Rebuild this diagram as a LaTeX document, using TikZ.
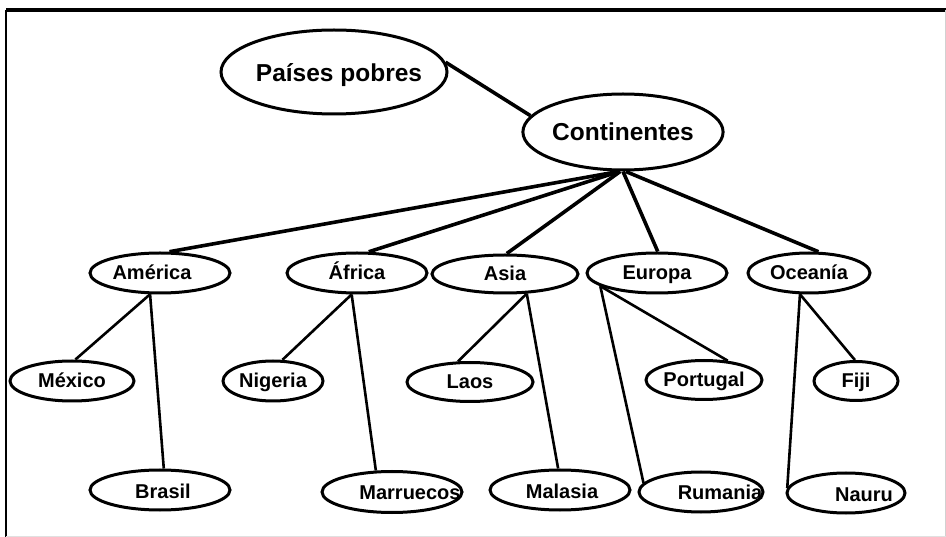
\documentclass[tikz,border=0pt]{standalone}
\usepackage{fontspec}
\setmainfont{Liberation Sans}
\usetikzlibrary{shapes.geometric}
\begin{document}
\begin{tikzpicture}[x=1pt,y=-1pt,
  oval/.style={draw=black, line width=3pt, ellipse, inner sep=0pt,
    font=\fontsize{20}{24}\selectfont\bfseries, text height=14pt, text depth=0pt},
  bigoval/.style={oval, font=\fontsize{24.5}{28}\selectfont\bfseries, text height=17.5pt},
  lbl/.style={font=\fontsize{20}{24}\selectfont\bfseries, inner sep=0pt,
    text height=14pt, text depth=0pt},
  mainlink/.style={line width=3.6pt},
  sublink/.style={line width=2.6pt}]
\useasboundingbox (0,0) rectangle (946,537);
% frame
\draw[line width=3.4pt] (6,10) -- (946,10);
\draw[line width=2.8pt] (6,10) -- (6,537);
\draw[black!18, line width=1pt] (945,10) -- (945,537);
\draw[black!12, line width=1pt] (6,536) -- (946,536);
% top
\node[bigoval, minimum width=226pt, minimum height=84pt] (paises) at (334,72) {};
\node[lbl, font=\fontsize{24.5}{28}\selectfont\bfseries, text height=17.5pt] (paisest) at (339,73) {Países pobres};
\node[bigoval, minimum width=174pt, minimum height=76pt] (cont) at (623,132) {Continentes};
% continents
\node[oval, minimum width=140pt, minimum height=40pt] (amer) at (160,273) {};
\node[lbl] (amert) at (152,273) {América};
\node[oval, minimum width=140pt, minimum height=40pt] (afr) at (357,273) {África};
\node[oval, minimum width=146pt, minimum height=38pt] (asia) at (505,274) {Asia};
\node[oval, minimum width=140pt, minimum height=40pt] (eur) at (657,273) {Europa};
\node[oval, minimum width=122pt, minimum height=40pt] (oce) at (809,273) {Oceanía};
% countries row 1
\node[oval, minimum width=124pt, minimum height=40pt] (mex) at (72,381) {México};
\node[oval, minimum width=100pt, minimum height=40pt] (nig) at (273,381) {Nigeria};
\node[oval, minimum width=126pt, minimum height=39pt] (laos) at (470,382) {Laos};
\node[oval, minimum width=116pt, minimum height=39pt] (port) at (704,380) {Portugal};
\node[oval, minimum width=84pt, minimum height=39pt] (fiji) at (856,381) {Fiji};
% countries row 2
\node[oval, minimum width=140pt, minimum height=40pt] (bras) at (160,490) {};
\node[lbl] (brast) at (163,491) {Brasil};
\node[oval, minimum width=140pt, minimum height=41pt] (marr) at (392,492) {};
\node[lbl] (marrt) at (410,492) {Marruecos};
\node[oval, minimum width=140pt, minimum height=40pt] (mal) at (560,490) {};
\node[lbl] (malt) at (562,491) {Malasia};
\node[oval, minimum width=124pt, minimum height=40pt] (rum) at (701,492) {};
\node[lbl] (rumt) at (720,493) {Rumania};
\node[oval, minimum width=118pt, minimum height=40pt] (nau) at (846,493) {};
\node[lbl] (naut) at (864,494) {Nauru};
% connectors
\draw[mainlink] (paises.5) -- (cont.170);
\draw[mainlink] (cont.264) -- (amer.66);
\draw[mainlink] (cont.265) -- (afr.61);
\draw[mainlink] (cont.266) -- (asia.85);
\draw[mainlink] (cont.270) -- (eur.88);
\draw[mainlink] (cont.274) -- (oce.66);
\draw[sublink] (amer.245) -- (mex.81);
\draw[sublink] (amer.245) -- (bras.80);
\draw[sublink] (afr.256) -- (nig.66);
\draw[sublink] (afr.256) -- (marr.127);
\draw[sublink] (asia.318) -- (laos.120);
\draw[sublink] (asia.318) -- (mal.95);
\draw[sublink] (eur.193) -- (port.39);
\draw[sublink] (eur.193) -- (rum.171);
\draw[sublink] (oce.247) -- (fiji.93);
\draw[sublink] (oce.247) -- (nau.175);
\end{tikzpicture}
\end{document}
